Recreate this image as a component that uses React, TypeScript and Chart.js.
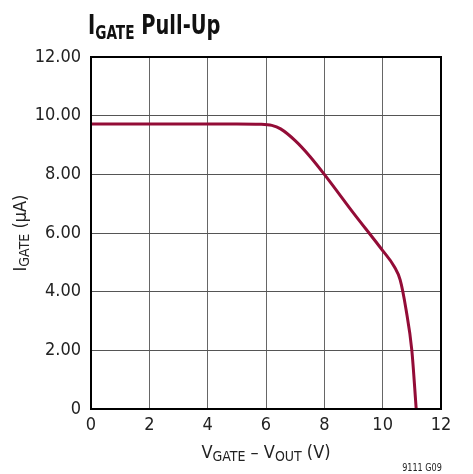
import React, { useEffect, useRef } from "react";
import { Chart, registerables } from "chart.js";

Chart.register(...registerables);

const xValues = [0, 2, 4, 5, 5.8, 6.2, 6.5, 7, 7.5, 8, 9, 10, 10.4, 10.6, 10.8, 11.0, 11.15];
const yValues = [9.72, 9.72, 9.72, 9.72, 9.71, 9.67, 9.55, 9.15, 8.62, 8.0, 6.68, 5.4, 4.85, 4.4, 3.4, 2.0, 0];
const xTicks = [0, 2, 4, 6, 8, 10, 12];
const yTicks = [0, 2, 4, 6, 8, 10, 12];
const yTickLabels = ["0", "2.00", "4.00", "6.00", "8.00", "10.00", "12.00"];

const FONT = "'Liberation Sans Narrow', 'DejaVu Sans Condensed', 'Liberation Sans', sans-serif";
const LINE_COLOR = "#930c37";

function drawSubText(ctx: CanvasRenderingContext2D, parts: { t: string; sub?: boolean }[], size: number, subSize: number, weight: string, x: number, y: number, align: "left" | "center", sx = 1) {
  const widths = parts.map((p) => {
    ctx.font = `${weight} ${p.sub ? subSize : size}px ${FONT}`;
    return ctx.measureText(p.t).width;
  });
  const total = widths.reduce((a, b) => a + b, 0) * sx;
  const start = align === "center" ? x - total / 2 : x;
  ctx.save();
  ctx.translate(start, y);
  ctx.scale(sx, 1);
  ctx.textAlign = "left";
  ctx.textBaseline = "alphabetic";
  let cx = 0;
  parts.forEach((p, i) => {
    ctx.font = `${weight} ${p.sub ? subSize : size}px ${FONT}`;
    ctx.fillText(p.t, cx, p.sub ? size * 0.18 : 0);
    cx += widths[i];
  });
  ctx.restore();
}

const textPlugin = {
  id: "texts",
  afterDraw(chart: any) {
    const ctx = chart.ctx as CanvasRenderingContext2D;
    const a = chart.chartArea;
    ctx.save();
    ctx.strokeStyle = "#000";
    ctx.lineWidth = 2;
    ctx.strokeRect(a.left, a.top, a.right - a.left, a.bottom - a.top);
    ctx.fillStyle = "#111";
    drawSubText(ctx, [{ t: "I" }, { t: "GATE", sub: true }, { t: " Pull-Up" }], 27, 19, "bold", 88, 34, "left", 0.8);
    ctx.fillStyle = "#222";
    drawSubText(ctx, [{ t: "V" }, { t: "GATE", sub: true }, { t: " – V" }, { t: "OUT", sub: true }, { t: " (V)" }], 18, 14, "normal", (a.left + a.right) / 2, 458, "center");
    ctx.save();
    ctx.translate(26, (a.top + a.bottom) / 2);
    ctx.rotate(-Math.PI / 2);
    drawSubText(ctx, [{ t: "I" }, { t: "GATE", sub: true }, { t: " (µA)" }], 18, 14, "normal", 0, 0, "center");
    ctx.restore();
    drawSubText(ctx, [{ t: "9111 G09" }], 10, 10, "normal", 422, 471, "center", 0.9);
    ctx.restore();
  },
};

export default function App() {
  const ref = useRef<HTMLCanvasElement | null>(null);
  useEffect(() => {
    document.body.style.margin = "0";
    const ctx = ref.current!;
    const chart = new Chart(ctx, {
      type: "line",
      data: {
        datasets: [
          {
            data: xValues.map((x, i) => ({ x, y: yValues[i] })),
            borderColor: LINE_COLOR,
            borderWidth: 3,
            pointRadius: 0,
            cubicInterpolationMode: "monotone",
            fill: false,
          },
        ],
      },
      options: {
        animation: false,
        responsive: false,
        layout: { padding: { left: 0, top: 57, right: 32, bottom: 0 } },
        plugins: { legend: { display: false }, tooltip: { enabled: false }, title: { display: false } },
        scales: {
          x: {
            type: "linear",
            min: 0,
            max: 12,
            afterBuildTicks: (s: any) => { s.ticks = xTicks.map((v) => ({ value: v })); },
            afterFit: (s: any) => { s.height = 65; },
            ticks: { color: "#222", font: { family: FONT, size: 18 }, padding: 6, callback: (v: any) => String(v) },
            grid: { color: "#666", lineWidth: 1, drawTicks: false },
            border: { color: "#000", width: 2 },
          },
          y: {
            type: "linear",
            min: 0,
            max: 12,
            afterBuildTicks: (s: any) => { s.ticks = yTicks.map((v) => ({ value: v })); },
            afterFit: (s: any) => { s.width = 91; },
            ticks: { color: "#222", font: { family: FONT, size: 18 }, padding: 10, callback: (v: any) => yTickLabels[yTicks.indexOf(Number(v))] },
            grid: { color: "#555", lineWidth: 1, drawTicks: false },
            border: { color: "#000", width: 2 },
          },
        },
      },
      plugins: [textPlugin],
    } as any);
    return () => chart.destroy();
  }, []);
  return (
    <div style={{ position: "absolute", left: 0, top: 0, width: 473, height: 474, background: "#fff" }}>
      <canvas ref={ref} width={473} height={474} style={{ display: "block" }} />
    </div>
  );
}
